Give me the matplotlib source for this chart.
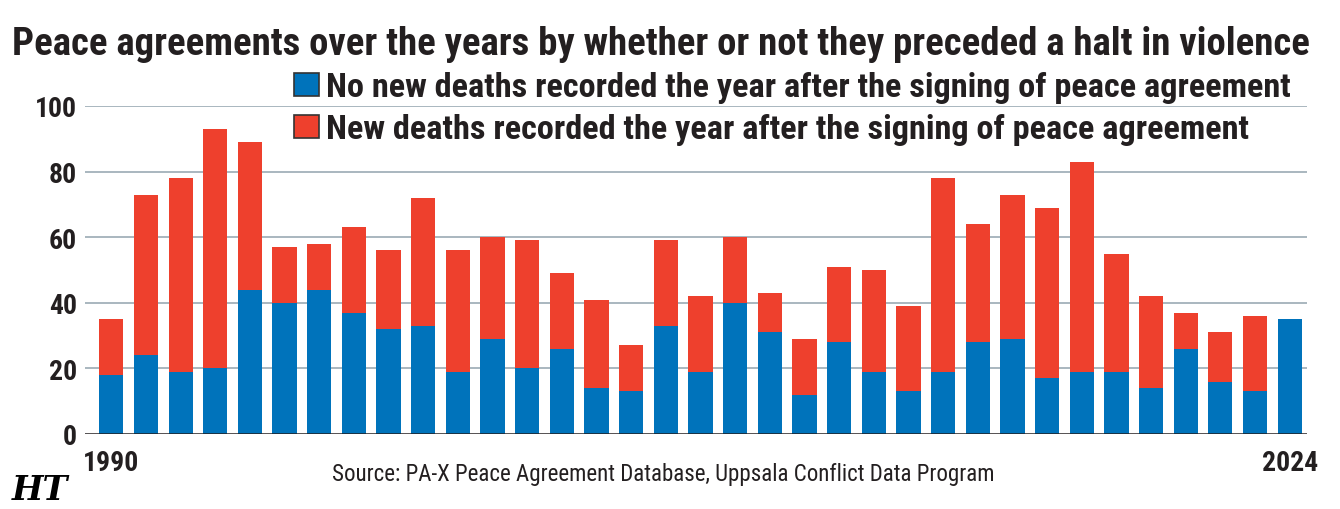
import os
import matplotlib
matplotlib.use('Agg')
import matplotlib.pyplot as plt
from matplotlib import font_manager as fm
from matplotlib.patches import Rectangle
from matplotlib.font_manager import FontProperties

# ---------------- data ----------------
years = list(range(1990, 2025))
no_new_deaths = [18, 24, 19, 20, 44, 40, 44, 37, 32, 33, 19, 29, 20, 26, 14, 13, 33,
                 19, 40, 31, 12, 28, 19, 13, 19, 28, 29, 17, 19, 19, 14, 26, 16, 13, 35]
new_deaths = [17, 49, 59, 73, 45, 17, 14, 26, 24, 39, 37, 31, 39, 23, 27, 14, 26,
              23, 20, 12, 17, 23, 31, 26, 59, 36, 44, 52, 64, 36, 28, 11, 15, 23, 0]
yticks = [0, 20, 40, 60, 80, 100]
xtick_years = [1990, 2024]
title = "Peace agreements over the years by whether or not they preceded a halt in violence"
legend_labels = ["No new deaths recorded the year after the signing of peace agreement",
                 "New deaths recorded the year after the signing of peace agreement"]
source = "Source: PA-X Peace Agreement Database, Uppsala Conflict Data Program"

BLUE = "#0073BB"
RED = "#EE402D"
GRID = "#A3B1BA"
TXT = "#231F20"

# ---------------- fonts ----------------
def find_font(stems):
    files = [f.fname for f in fm.fontManager.ttflist]
    for s in stems:
        for f in files:
            if os.path.splitext(os.path.basename(f))[0].lower() == s.lower():
                return f
    return None

bold_path = find_font(['OpenSans_Condensed-Bold', 'OpenSansCondensed-Bold',
                       'NotoSans-CondensedBold', 'RobotoCondensed-Bold',
                       'Roboto_Condensed-Bold', 'LiberationSansNarrow-Bold',
                       'DejaVuSansCondensed-Bold'])
reg_path = find_font(['OpenSans_Condensed-Regular', 'NotoSans-Condensed',
                      'RobotoCondensed-Regular', 'Roboto_Condensed-Regular',
                      'LiberationSansNarrow-Regular', 'DejaVuSansCondensed'])

def fp_bold(size):
    if bold_path:
        return FontProperties(fname=bold_path, size=size)
    return FontProperties(family='DejaVu Sans', weight='bold', size=size)

def fp_reg(size):
    if reg_path:
        return FontProperties(fname=reg_path, size=size)
    return FontProperties(family='DejaVu Sans', size=size)

# ---------------- figure ----------------
W, H = 1340, 510
fig = plt.figure(figsize=(W / 100, H / 100), dpi=100)
fig.patch.set_facecolor('white')

def fx(px):
    return px / W

def fy(py_top):
    return 1 - py_top / H

ax_left, ax_right, ax_top, ax_bottom = 85, 1307, 107, 435
ax = fig.add_axes([fx(ax_left), fy(ax_bottom), fx(ax_right - ax_left), (ax_bottom - ax_top) / H])

ax.bar(years, no_new_deaths, width=0.70, color=BLUE, zorder=3, label=legend_labels[0])
ax.bar(years, new_deaths, bottom=no_new_deaths, width=0.70, color=RED, zorder=3,
       label=legend_labels[1])

ax.set_xlim(1989.24, 2024.5)
ax.set_ylim(0, 100)
for s in ax.spines.values():
    s.set_visible(False)
ax.set_yticks(yticks)
ax.set_yticklabels([str(t) for t in yticks])
for t in yticks[1:]:
    ax.axhline(t, color=GRID, lw=1.3, zorder=1)
ax.axhline(0, color=TXT, lw=1.8, zorder=4)
ax.tick_params(axis='y', length=0, pad=6, colors=TXT)
ax.set_xticks(xtick_years)
ax.set_xticklabels([str(y) for y in xtick_years])
ax.tick_params(axis='x', length=0, pad=11, colors=TXT)
for lbl in ax.get_yticklabels() + ax.get_xticklabels():
    lbl.set_fontproperties(fp_bold(20))
ax.set_facecolor('none')

# title
t_title = fig.text(fx(12), fy(55), title, fontproperties=fp_bold(27), color=TXT,
                   ha='left', va='baseline')
# legend (manual)
leg_texts = []
for i, (lab, col) in enumerate(zip(legend_labels, [BLUE, RED])):
    top = 74 + i * 42
    fig.patches.append(Rectangle((fx(294), fy(top + 23)), fx(25), 23 / H,
                                 transform=fig.transFigure, facecolor=col,
                                 edgecolor='#333333', lw=1.2))
    leg_texts.append(fig.text(fx(326), fy(top + 23), lab, fontproperties=fp_bold(23),
                              color=TXT, ha='left', va='baseline'))
# source
t_src = fig.text(fx(332), fy(481), source, fontproperties=fp_reg(16), color=TXT,
                 ha='left', va='baseline')
# HT logo
fig.text(fx(12), fy(500), "HT", family='DejaVu Serif', weight='bold', style='italic',
         fontsize=24, color='black', ha='left', va='baseline')

# fit text widths
fig.canvas.draw()
def fit(t, target):
    w = t.get_window_extent().width
    t.set_fontsize(t.get_fontsize() * target / w)
fit(t_title, 1301)
fit(leg_texts[0], 971)
leg_texts[1].set_fontsize(leg_texts[0].get_fontsize())
fit(t_src, 663)

fig.savefig('out.png', dpi=100, facecolor='white')
